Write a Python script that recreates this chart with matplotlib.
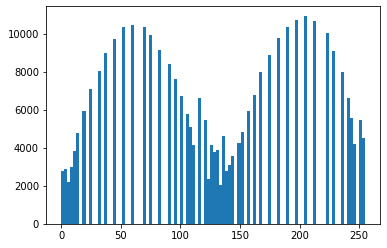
import numpy as np
import matplotlib
matplotlib.use("Agg")
import matplotlib.pyplot as plt

# grey levels (one representative value per occupied bin) and pixel counts
levels = [1, 4, 6, 9, 11, 14, 19, 24, 32, 37, 45, 52, 60, 70, 75, 83, 91,
          96, 101, 106, 108, 111, 116, 121, 124, 126, 129, 131, 134, 136,
          139, 142, 144, 149, 152, 157, 162, 167, 175, 182, 190, 198, 205,
          213, 223, 228, 236, 241, 244, 246, 251, 254]
counts = [2810, 2920, 2230, 3020, 3870, 4820, 5980, 7140, 8090, 9040, 9725,
          10360, 10465, 10360, 9936, 9198, 8460, 7668, 6772, 5822, 5136,
          4186, 6667, 5506, 2390, 4186, 3817, 3922, 2074, 4660, 2813, 3130,
          3605, 4291, 4871, 5979, 6825, 8037, 8934, 9778, 10360, 10729,
          10940, 10676, 10043, 9145, 8037, 6667, 5611, 4238, 5506, 4555]

fig = plt.figure(figsize=(387 / 72, 248 / 72), dpi=72)
ax = fig.add_subplot(111)
fig.subplots_adjust(left=46 / 387, right=380.3 / 387, bottom=1 - 224.3 / 248, top=1 - 6 / 248)

ax.hist(levels, bins=100, range=(0, 255), weights=counts)

fig.savefig("out.png", dpi=72)
